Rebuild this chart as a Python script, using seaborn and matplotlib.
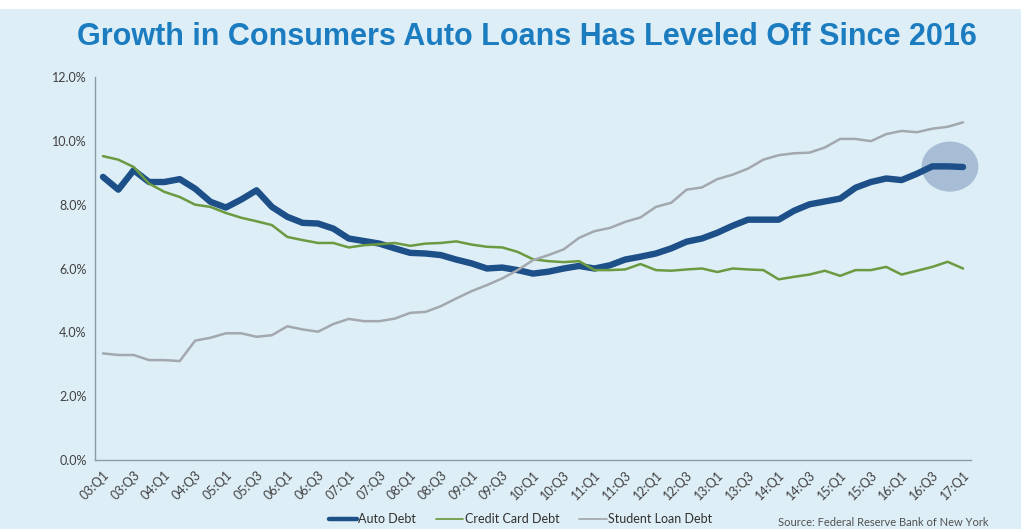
import numpy as np
import pandas as pd
import matplotlib
matplotlib.use("Agg")
import matplotlib.pyplot as plt
from matplotlib.patches import Ellipse
from matplotlib.lines import Line2D
import seaborn as sns

# ---- data ----
years = list(range(3, 18))
quarters = [f"{y:02d}:Q{q}" for y in years for q in (1, 2, 3, 4)][:57]

auto_debt = [8.87, 8.47, 9.08, 8.71, 8.71, 8.80, 8.50, 8.09, 7.91, 8.16,
             8.45, 7.93, 7.62, 7.43, 7.41, 7.25, 6.94, 6.86, 6.78, 6.63,
             6.49, 6.47, 6.42, 6.28, 6.16, 6.00, 6.03, 5.95, 5.84, 5.90,
             6.00, 6.08, 6.00, 6.10, 6.28, 6.37, 6.47, 6.63, 6.84, 6.94,
             7.12, 7.34, 7.53, 7.53, 7.53, 7.81, 8.01, 8.10, 8.19, 8.53,
             8.71, 8.82, 8.77, 8.97, 9.20, 9.20, 9.18]
credit_card_debt = [9.52, 9.41, 9.18, 8.66, 8.40, 8.24, 8.00, 7.93, 7.74, 7.59,
                    7.48, 7.36, 6.99, 6.89, 6.80, 6.80, 6.66, 6.73, 6.76, 6.80,
                    6.71, 6.78, 6.80, 6.85, 6.75, 6.68, 6.66, 6.52, 6.29, 6.23,
                    6.20, 6.23, 5.95, 5.95, 5.97, 6.14, 5.95, 5.93, 5.97, 6.00,
                    5.89, 6.00, 5.97, 5.95, 5.66, 5.74, 5.81, 5.93, 5.77, 5.95,
                    5.95, 6.05, 5.81, 5.93, 6.05, 6.21, 6.00]
student_loan_debt = [3.34, 3.29, 3.29, 3.13, 3.13, 3.10, 3.74, 3.83, 3.97, 3.97,
                     3.86, 3.91, 4.19, 4.09, 4.02, 4.26, 4.42, 4.35, 4.35, 4.43,
                     4.61, 4.64, 4.82, 5.06, 5.29, 5.48, 5.69, 5.95, 6.26, 6.42,
                     6.60, 6.96, 7.17, 7.27, 7.46, 7.60, 7.93, 8.06, 8.47, 8.54,
                     8.80, 8.94, 9.13, 9.41, 9.55, 9.61, 9.63, 9.79, 10.06, 10.06,
                     9.99, 10.21, 10.31, 10.27, 10.38, 10.44, 10.58]
series_names = ["Auto Debt", "Credit Card Debt", "Student Loan Debt"]
y_ticks = [0, 2, 4, 6, 8, 10, 12]

# ---- styling ----
BG = "#deeef7"
colors = {"Auto Debt": "#1d4f88", "Credit Card Debt": "#6b9a40",
          "Student Loan Debt": "#a2a8ad"}
widths = {"Auto Debt": 4.6, "Credit Card Debt": 1.8, "Student Loan Debt": 1.8}

sns.set_theme(style="white")
plt.rcParams["font.family"] = ["Lato", "DejaVu Sans"]

fig = plt.figure(figsize=(10.21, 5.29), dpi=100)
fig.patch.set_facecolor(BG)
# white strip at top
fig.patches.append(plt.Rectangle((0, 1 - 9 / 529), 1, 9 / 529, transform=fig.transFigure,
                                 facecolor="white", edgecolor="none", zorder=0))
ax = fig.add_axes([95 / 1021, 1 - 460 / 529, (971 - 95) / 1021, (460 - 77) / 529])
ax.set_facecolor(BG)

idx = np.arange(len(quarters))
df = pd.DataFrame({"idx": np.concatenate([idx] * 3),
                   "value": auto_debt + credit_card_debt + student_loan_debt,
                   "series": np.repeat(series_names, len(quarters))})

for i, name in enumerate(series_names):
    sub = df[df["series"] == name]
    sns.lineplot(data=sub, x="idx", y="value", ax=ax, color=colors[name],
                 linewidth=widths[name], legend=False, zorder=3 + i,
                 solid_capstyle="round", solid_joinstyle="round")

# highlight ellipse around latest auto values
last = len(quarters) - 1
ell = Ellipse((last - 0.85, np.mean(auto_debt[-3:])), width=3.7, height=1.57,
              facecolor="#a6bdd5", edgecolor="none", zorder=2, clip_on=False)
ax.add_patch(ell)

ax.set_xlim(-0.52, last + 0.52)
ax.set_ylim(0, 12)
ax.set_yticks(y_ticks)
ax.set_yticklabels([f"{v:.1f}%" for v in y_ticks], fontsize=9, color="#404040")
ax.set_xticks(idx[::2])
ax.set_xticklabels(quarters[::2], rotation=45, ha="right", rotation_mode="anchor",
                   fontsize=9, color="#404040")
ax.tick_params(axis="both", length=0, pad=6)
ax.set_xlabel("")
ax.set_ylabel("")
for s in ["top", "right"]:
    ax.spines[s].set_visible(False)
for s in ["left", "bottom"]:
    ax.spines[s].set_color("#8c9aa6")
    ax.spines[s].set_linewidth(1.0)

fig.text(0.516, 1 - 37 / 529, "Growth in Consumers Auto Loans Has Leveled Off Since 2016",
         ha="center", va="center", fontsize=22, fontweight="bold", color="#1b7cc0",
         family=["Liberation Sans", "DejaVu Sans"])

handles = [Line2D([0], [0], color=colors[n], linewidth=widths[n] * 0.7) for n in series_names]
fig.legend(handles, series_names, loc="center", bbox_to_anchor=(0.51, 1 - 519 / 529),
           ncol=3, frameon=False, fontsize=9, handlelength=2.2, handletextpad=0.1,
           columnspacing=1.6, labelcolor="#303030")

fig.text(0.762, 1 - 528 / 529, "Source: Federal Reserve Bank of New York",
         ha="left", va="bottom", fontsize=8, color="#505050")

fig.savefig("out.png", dpi=100, facecolor=BG)
